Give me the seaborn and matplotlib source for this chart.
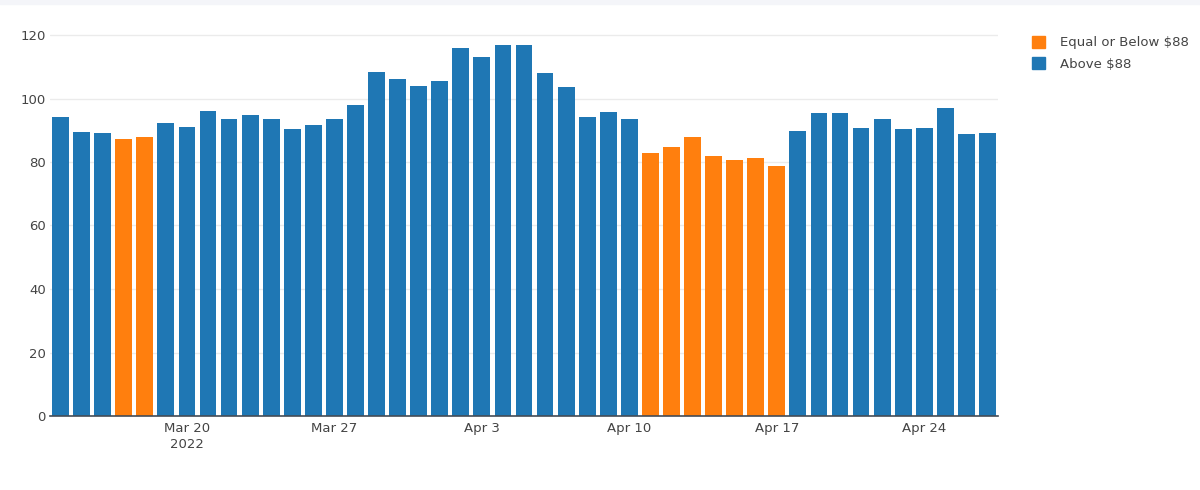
import pandas as pd
import matplotlib.pyplot as plt
import matplotlib.patches as mpatches
import seaborn as sns

sns.set_theme(style="white")
plt.rcParams['font.family'] = ['DejaVu Sans']

# daily values, Mar 14 - Apr 27 2022
dates = pd.date_range("2022-03-14", "2022-04-27", freq="D")
values = [94.2, 89.5, 89.0, 87.2, 87.8, 92.4, 91.0, 96.1, 93.4, 94.9,
          93.7, 90.5, 91.7, 93.7, 98.0, 108.3, 106.1, 103.9, 105.5, 116.0,
          113.1, 116.7, 116.9, 107.9, 103.6, 94.3, 95.9, 93.4, 82.7, 84.7,
          87.8, 82.0, 80.5, 81.4, 78.6, 89.9, 95.4, 95.4, 90.8, 93.7,
          90.3, 90.8, 97.1, 88.8, 89.1]
threshold = 88
group_names = ["Equal or Below $88", "Above $88"]
group_colors = ["#ff7f0e", "#1f77b4"]
tick_dates = ["2022-03-20", "2022-03-27", "2022-04-03", "2022-04-10", "2022-04-17", "2022-04-24"]
tick_labels = ["Mar 20\n2022", "Mar 27", "Apr 3", "Apr 10", "Apr 17", "Apr 24"]
y_ticks = [0, 20, 40, 60, 80, 100, 120]

df = pd.DataFrame({"date": dates, "price": values})
df["day"] = range(len(df))
df["group"] = [group_names[0] if v <= threshold else group_names[1] for v in values]

fig = plt.figure(figsize=(12, 4.9), dpi=100)
fig.patches.append(mpatches.Rectangle((0, 1 - 4 / 490), 1, 4 / 490, transform=fig.transFigure,
                                      color="#f4f5f9", zorder=0))
ax = fig.add_axes([50 / 1200, 1 - 416 / 490, 948 / 1200, 123 * 3.175 / 490])

sns.barplot(data=df, x="day", y="price", hue="group", hue_order=group_names,
            palette=dict(zip(group_names, group_colors)), dodge=False,
            width=0.8, saturation=1, linewidth=0, ax=ax, legend=False, zorder=3)

ax.set_xlim(-0.5, len(df) - 0.5)
ax.set_ylim(0, 123)
ax.set_yticks(y_ticks)
ax.set_yticklabels([str(t) for t in y_ticks])
tick_pos = [int(df.index[df["date"] == pd.Timestamp(d)][0]) for d in tick_dates]
ax.set_xticks(tick_pos)
ax.set_xticklabels(tick_labels, linespacing=1.3)
ax.set_xlabel("")
ax.set_ylabel("")

ax.tick_params(axis="both", length=0, labelsize=9.5, labelcolor="#444444")
ax.tick_params(axis="x", pad=4)
ax.tick_params(axis="y", pad=3)
ax.yaxis.grid(True, color="#ebebeb", linewidth=1)
ax.set_axisbelow(True)
for side in ["top", "right", "left"]:
    ax.spines[side].set_visible(False)
ax.spines["bottom"].set_color("#444c56")
ax.spines["bottom"].set_linewidth(1.2)
ax.spines["bottom"].set_zorder(5)

handles = [mpatches.Patch(color=c, label=n) for n, c in zip(group_names, group_colors)]
fig.legend(handles=handles, loc="upper left", bbox_to_anchor=(1020 / 1200, 1 - 24 / 490),
           frameon=False, fontsize=9.5, handlelength=1.0, handleheight=1.0,
           handletextpad=1.1, labelspacing=0.6, labelcolor="#444444")

fig.savefig("out.png", dpi=100)
